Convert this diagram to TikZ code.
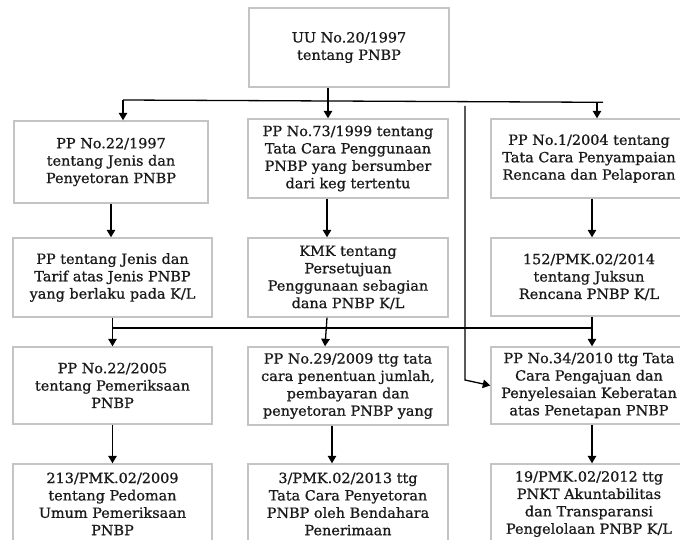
\documentclass[tikz,border=0pt]{standalone}
\usepackage{fontspec}
\setmainfont{DejaVu Serif}[FakeStretch=1.03,FakeBold=0.9]
\usetikzlibrary{arrows.meta}
\definecolor{boxgray}{HTML}{C4C4C4}
\definecolor{txt}{HTML}{1A1A1A}
\begin{document}
\begin{tikzpicture}[x=1pt,y=-1pt,
  box/.style={draw=boxgray, line width=1.4pt, align=center, inner sep=0pt, text=txt,
    font=\fontsize{14}{17.4}\selectfont},
  arr/.style={-{Triangle[length=7.5pt,width=8.5pt]}, line width=1.3pt},
  ln/.style={line width=1.3pt}]
\useasboundingbox (0,0) rectangle (680,540);
\clip (0,0) rectangle (680,540);
% boxes
\node[box, minimum width=200pt, minimum height=79pt] (top) at (349,47.5) {UU No.20/1997\\tentang PNBP};
\node[box, minimum width=194pt, minimum height=82pt] (A) at (111,162) {PP No.22/1997\\tentang Jenis dan\\Penyetoran PNBP};
\node[box, minimum width=200pt, minimum height=79pt] (B) at (348,158.5) {PP No.73/1999 tentang\\Tata Cara Penggunaan\\PNBP yang bersumber\\dari keg tertentu};
\node[box, minimum width=196pt, minimum height=79pt] (C) at (589,158.5) {PP No.1/2004 tentang\\Tata Cara Penyampaian\\Rencana dan Pelaporan};
\node[box, minimum width=199pt, minimum height=79pt] (D) at (112.5,277.5) {PP tentang Jenis dan\\Tarif atas Jenis PNBP\\yang berlaku pada K/L};
\node[box, minimum width=200pt, minimum height=79pt] (E) at (348,277.5) {KMK tentang\\Persetujuan\\Penggunaan sebagian\\dana PNBP K/L};
\node[box, minimum width=196pt, minimum height=78pt] (F) at (589,277) {152/PMK.02/2014\\tentang Juksun\\Rencana PNBP K/L};
\node[box, minimum width=199pt, minimum height=77pt] (G) at (112.5,385.5) {PP No.22/2005\\tentang Pemeriksaan\\PNBP};
\node[box, minimum width=200pt, minimum height=78pt] (H) at (348,386) {PP No.29/2009 ttg tata\\cara penentuan jumlah,\\pembayaran dan\\penyetoran PNBP yang};
\node[box, minimum width=196pt, minimum height=77pt] (I) at (589,385.5) {PP No.34/2010 ttg Tata\\Cara Pengajuan dan\\Penyelesaian Keberatan\\atas Penetapan PNBP};
\node[box, minimum width=199pt, minimum height=80pt] (J) at (112.5,504) {213/PMK.02/2009\\tentang Pedoman\\Umum Pemeriksaan\\PNBP};
\node[box, minimum width=200pt, minimum height=80pt] (K) at (348,504) {3/PMK.02/2013 ttg\\Tata Cara Penyetoran\\PNBP oleh Bendahara\\Penerimaan};
\node[box, minimum width=196pt, minimum height=80pt] (L) at (589,504) {19/PMK.02/2012 ttg\\PNKT Akuntabilitas\\dan Transparansi\\Pengelolaan PNBP K/L};
% coordinates
\coordinate (t1) at (328,100.5);
\coordinate (bL) at (123,100);
\coordinate (bR) at (603,102.3);
\coordinate (bC) at (597,102);
\coordinate (s1) at (465,106);
\coordinate (s2) at (465,380);
\coordinate (xm) at (327,0);
\coordinate (xe) at (325,0);
\coordinate (xh) at (332,0);
\coordinate (xr) at (592,0);
\coordinate (m) at (0,328);
% top level connectors
\draw[ln] (top.south -| t1) -- (t1);
\draw[ln] (bL) -- (bR);
\draw[arr] (bL) -- (bL |- A.north);
\draw[arr] (t1) -- (t1 |- B.north);
\draw[arr] (bC) -- (bC |- C.north);
\draw[arr] (s1) -- (s2) -- (I.west);
% row 1 -> row 2
\draw[arr] (A.south) -- (A.south |- D.north);
\draw[arr] (B.south -| xm) -- (xm |- E.north);
\draw[arr] (C.south -| xr) -- (xr |- F.north);
% row 2 -> row 3
\draw[ln] (D.south |- m) -- (xr |- m);
\draw[arr] (D.south) -- (D.south |- G.north);
\draw[arr] (E.south -| xm) -- (xe |- H.north);
\draw[arr] (F.south -| xr) -- (xr |- I.north);
% row 3 -> row 4
\draw[arr] (G.south) -- (G.south |- J.north);
\draw[arr] (H.south -| xh) -- (xh |- K.north);
\draw[arr] (I.south -| xr) -- (xr |- L.north);
\end{tikzpicture}
\end{document}
